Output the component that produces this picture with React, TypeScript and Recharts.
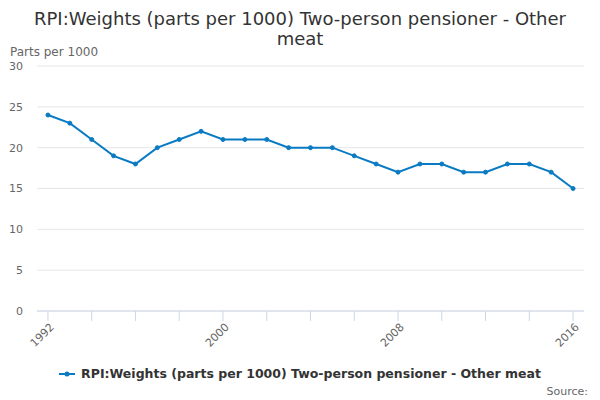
import React from 'react';
import { LineChart, Line, XAxis, YAxis, CartesianGrid } from 'recharts';

const years = [1992, 1993, 1994, 1995, 1996, 1997, 1998, 1999, 2000, 2001, 2002, 2003, 2004, 2005, 2006, 2007, 2008, 2009, 2010, 2011, 2012, 2013, 2014, 2015, 2016];
const weights = [24, 23, 21, 19, 18, 20, 21, 22, 21, 21, 21, 20, 20, 20, 19, 18, 17, 18, 18, 17, 17, 18, 18, 17, 15];
const yTicks = [0, 5, 10, 15, 20, 25, 30];
const labelYears = ['1992', '2000', '2008', '2016'];

const seriesName = 'RPI:Weights (parts per 1000) Two-person pensioner - Other meat';
const titleLines = ['RPI:Weights (parts per 1000) Two-person pensioner - Other', 'meat'];

const data = years.map((y, i) => ({ year: String(y), value: weights[i] }));

const FONT = '"DejaVu Sans", sans-serif';
const BLUE = '#0a7bc3';

const XTick = (props: any) => {
  const { x, y, payload } = props;
  if (!labelYears.includes(payload.value)) return null;
  return (
    <g transform={`translate(${x + 4},${y + 2})`}>
      <text
        x={0}
        y={0}
        dy="0.35em"
        textAnchor="end"
        transform="rotate(-45)"
        fill="#666666"
        fontSize={11}
        fontFamily={FONT}
      >
        {payload.value}
      </text>
    </g>
  );
};

export default function App() {
  return (
    <div style={{ position: 'absolute', left: 0, top: 0, width: 600, height: 400, background: '#fff', fontFamily: FONT }}>
      <div style={{ position: 'absolute', left: 0, top: 9, width: 600, textAlign: 'center', color: '#333333', fontSize: 18, lineHeight: '20px' }}>
        {titleLines.map((l) => (
          <div key={l}>{l}</div>
        ))}
      </div>
      <div style={{ position: 'absolute', left: 10, top: 45, color: '#666666', fontSize: 12, whiteSpace: 'nowrap' }}>Parts per 1000</div>
      <LineChart width={600} height={400} data={data} margin={{ top: 66, right: 16, bottom: 49, left: 0 }}>
        <CartesianGrid vertical={false} stroke="#e6e6e6" />
        <XAxis
          dataKey="year"
          scale="band"
          interval={1}
          tickSize={10}
          tickMargin={2}
          height={40}
          stroke="#ccd6eb"
          tickLine={{ stroke: '#ccd6eb' }}
          tick={<XTick />}
        />
        <YAxis
          domain={[0, 30]}
          ticks={yTicks}
          width={37}
          axisLine={false}
          tickLine={false}
          tickSize={0}
          tickMargin={14}
          tick={{ fill: '#666666', fontSize: 11, fontFamily: FONT }}
        />
        <Line
          type="linear"
          dataKey="value"
          name={seriesName}
          stroke={BLUE}
          strokeWidth={2}
          dot={{ r: 2, fill: BLUE, stroke: BLUE, strokeWidth: 1 }}
          isAnimationActive={false}
        />
      </LineChart>
      <div style={{ position: 'absolute', left: 0, top: 366, width: 600, height: 15, display: 'flex', justifyContent: 'center', alignItems: 'center' }}>
        <svg width={16} height={10} style={{ marginRight: 6 }}>
          <line x1={0} y1={5} x2={16} y2={5} stroke={BLUE} strokeWidth={2} />
          <circle cx={8} cy={5} r={2.5} fill={BLUE} />
        </svg>
        <span style={{ fontWeight: 'bold', fontSize: 12.5, lineHeight: '15px', color: '#333333', whiteSpace: 'nowrap' }}>{seriesName}</span>
      </div>
      <div style={{ position: 'absolute', right: 12, top: 385, color: '#666666', fontSize: 11, whiteSpace: 'nowrap' }}>Source:</div>
    </div>
  );
}
